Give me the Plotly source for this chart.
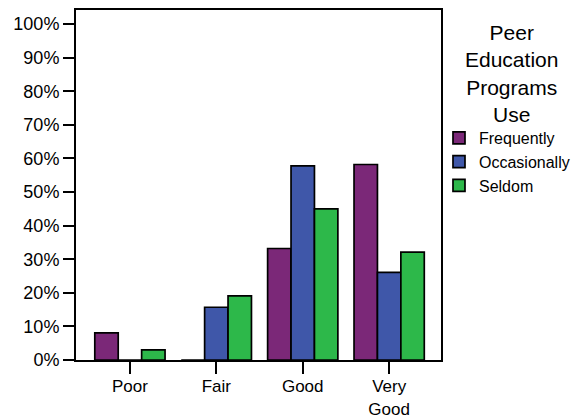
import plotly.graph_objects as go

categories = ["Poor", "Fair", "Good", "Very<br>Good"]
frequently = [8.1, 0.0, 33.2, 58.2]
occasionally = [0.0, 15.7, 57.8, 26.1]
seldom = [3.0, 19.1, 45.0, 32.1]
y_ticks = [0, 10, 20, 30, 40, 50, 60, 70, 80, 90, 100]
y_labels = ["0%", "10%", "20%", "30%", "40%", "50%", "60%", "70%", "80%", "90%", "100%"]
legend_title = "Peer<br>Education<br>Programs<br>Use"

font_name = "Liberation Sans, Arial, sans-serif"

fig = go.Figure()
fig.add_trace(go.Bar(x=categories, y=frequently, name="Frequently",
                     marker=dict(color="#7B2878", line=dict(color="black", width=1.7))))
fig.add_trace(go.Bar(x=categories, y=occasionally, name="Occasionally",
                     marker=dict(color="#3F57A9", line=dict(color="black", width=1.7))))
fig.add_trace(go.Bar(x=categories, y=seldom, name="Seldom",
                     marker=dict(color="#2DB84A", line=dict(color="black", width=1.7))))

# page body adds an 8px offset, so the figure is a bit smaller than the window
fig.update_layout(
    width=574, height=409,
    margin=dict(l=68, r=141, t=2, b=57, autoexpand=False),
    plot_bgcolor="white", paper_bgcolor="white",
    barmode="group", bargap=0.187, bargroupgap=0,
    font=dict(family=font_name, color="black", size=17),
    legend=dict(
        x=0.9945, xanchor="left", y=0.683, yanchor="top",
        font=dict(size=16),
        traceorder="normal",
        itemclick=False,
        bgcolor="rgba(0,0,0,0)",
    ),
    showlegend=True,
)

# legend heading, centred above the items
fig.add_annotation(text=legend_title, xref="paper", yref="paper", x=1.1945, y=0.973,
                   xanchor="center", yanchor="top", align="center", showarrow=False,
                   font=dict(size=21, color="black"))

fig.update_xaxes(range=[-0.624, 3.6], showline=True, mirror=True, linecolor="black",
                 linewidth=2, ticks="outside", ticklen=12, tickwidth=2, tickcolor="black",
                 showgrid=False, tickfont=dict(size=17), ticklabelstandoff=-2,
                 automargin=False)
fig.update_yaxes(range=[0, 104.2], tickvals=y_ticks, ticktext=y_labels, showline=True,
                 mirror=True, linecolor="black", linewidth=2, ticks="outside", ticklen=11,
                 tickwidth=2, tickcolor="black", showgrid=False, zeroline=False,
                 tickfont=dict(size=18), automargin=False)

fig.write_html("out.html")
